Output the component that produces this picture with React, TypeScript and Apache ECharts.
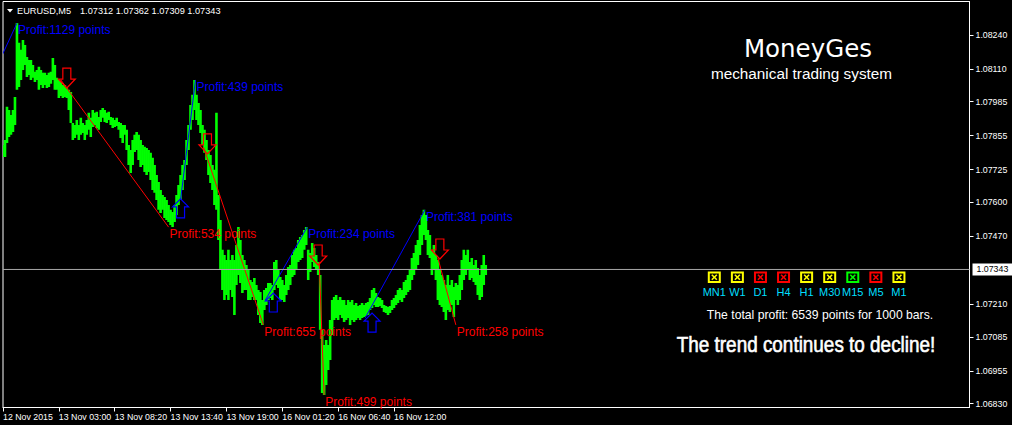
import React, { useEffect, useRef } from "react";
import * as echarts from "echarts";

// ---------- DATA ----------
const SAMPLE_STEP = 2; // bars between samples (M5 bars)

const priceHigh = [
  1.07819, 1.07838, 1.07965, 1.07953, 1.07934, 1.07953, 1.08003, 1.08286, 1.0821, 1.08183,
  1.08221, 1.08202, 1.08156, 1.08144, 1.08144, 1.08125, 1.08099, 1.08106, 1.08118, 1.08106,
  1.08095, 1.08095, 1.08087, 1.08095, 1.08099, 1.08152, 1.08125, 1.08076, 1.08068, 1.0806,
  1.08049, 1.08049, 1.08037, 1.0803, 1.08022, 1.07903, 1.07896, 1.07915, 1.07896, 1.07923,
  1.07903, 1.07896, 1.07915, 1.07942, 1.07923, 1.07953, 1.07942, 1.07946, 1.07926, 1.07953,
  1.07961, 1.07953, 1.07942, 1.07946, 1.07926, 1.07923, 1.07915, 1.07923, 1.07907, 1.07903,
  1.07896, 1.07896, 1.07877, 1.07819, 1.078, 1.07838, 1.07858, 1.07869, 1.07858, 1.07838,
  1.07819, 1.07812, 1.07808, 1.078, 1.07789, 1.0777, 1.07743, 1.07704, 1.07678, 1.07647,
  1.07628, 1.0762, 1.07609, 1.0759, 1.07571, 1.07563, 1.0759, 1.07628, 1.07666, 1.07704,
  1.07743, 1.07762, 1.07838, 1.07896, 1.07972, 1.08011, 1.08068, 1.08011, 1.0798, 1.07953,
  1.07896, 1.07877, 1.07838, 1.078, 1.07781, 1.07743, 1.07724, 1.07942, 1.07628, 1.07532,
  1.07418, 1.07398, 1.07379, 1.07418, 1.07379, 1.07398, 1.07379, 1.07437, 1.07505, 1.07456,
  1.07398, 1.07379, 1.0736, 1.07341, 1.07303, 1.07295, 1.0731, 1.07284, 1.07264, 1.07257,
  1.07226, 1.07264, 1.07272, 1.07291, 1.07291, 1.07284, 1.07372, 1.07379, 1.07341, 1.07314,
  1.07303, 1.07284, 1.07322, 1.07352, 1.0736, 1.07398, 1.07418, 1.07425, 1.07456, 1.07467,
  1.07475, 1.07494, 1.07505, 1.07418, 1.07406, 1.07444, 1.07425, 1.07398, 1.07372, 1.07322,
  1.07111, 1.07054, 1.07073, 1.07054, 1.0715, 1.07226, 1.07238, 1.07245, 1.07226, 1.07238,
  1.07226, 1.07226, 1.07207, 1.07226, 1.07219, 1.07226, 1.07207, 1.07215, 1.07203, 1.07207,
  1.07215, 1.07207, 1.07215, 1.07219, 1.07234, 1.07264, 1.07272, 1.07253, 1.07238, 1.07234,
  1.07226, 1.07207, 1.07203, 1.07199, 1.07203, 1.07226, 1.07234, 1.07245, 1.07264, 1.07272,
  1.07264, 1.07295, 1.07303, 1.07322, 1.07341, 1.07387, 1.07406, 1.07437, 1.07456, 1.07513,
  1.07551, 1.07571, 1.07551, 1.07494, 1.07475, 1.07418, 1.07437, 1.07398, 1.07379, 1.07341,
  1.07322, 1.07303, 1.07284, 1.07322, 1.07284, 1.07303, 1.07276, 1.07291, 1.07284, 1.07322,
  1.07379, 1.07418, 1.07398, 1.07418, 1.07372, 1.07387, 1.0736, 1.07379, 1.07349, 1.07322,
  1.0736, 1.07398, 1.0736,
];

const priceLow = [
  1.07773, 1.07773, 1.07827, 1.0785, 1.07858, 1.07869, 1.07896, 1.0803, 1.08041, 1.08068,
  1.08106, 1.08125, 1.08079, 1.08087, 1.08068, 1.08076, 1.0806, 1.08068, 1.0803, 1.08049,
  1.08037, 1.08049, 1.08037, 1.08041, 1.08053, 1.08068, 1.0803, 1.0803, 1.07999, 1.08007,
  1.07999, 1.08003, 1.07999, 1.07953, 1.07903, 1.07838, 1.07846, 1.07858, 1.07838, 1.07858,
  1.07865, 1.07838, 1.07858, 1.07877, 1.0785, 1.07888, 1.07896, 1.07884, 1.07877, 1.07907,
  1.07923, 1.07907, 1.07903, 1.07915, 1.07896, 1.07884, 1.07888, 1.07892, 1.07877, 1.07846,
  1.07827, 1.07858, 1.078, 1.07743, 1.07712, 1.07743, 1.07792, 1.078, 1.07762, 1.07735,
  1.07743, 1.07716, 1.07704, 1.07716, 1.07685, 1.07647, 1.07636, 1.07609, 1.07571, 1.07559,
  1.07571, 1.0754, 1.07532, 1.07525, 1.07513, 1.07505, 1.07525, 1.07551, 1.0759, 1.07609,
  1.07647, 1.07685, 1.07743, 1.078, 1.07877, 1.07915, 1.07953, 1.07915, 1.07896, 1.07865,
  1.07819, 1.07789, 1.07762, 1.07704, 1.07674, 1.07647, 1.0759, 1.07571, 1.07456, 1.07341,
  1.07264, 1.07226, 1.07245, 1.07226, 1.07264, 1.07238, 1.07169, 1.07284, 1.07322, 1.07291,
  1.07253, 1.07264, 1.07264, 1.07226, 1.07226, 1.07238, 1.07226, 1.07226, 1.07169, 1.07138,
  1.07131, 1.07188, 1.07207, 1.07226, 1.07234, 1.07226, 1.07264, 1.07284, 1.07272, 1.07226,
  1.07226, 1.07219, 1.07245, 1.07264, 1.07284, 1.07314, 1.07322, 1.07341, 1.07372, 1.07379,
  1.07387, 1.07418, 1.07437, 1.07303, 1.07333, 1.07372, 1.07352, 1.07341, 1.07322, 1.07111,
  1.0687, 1.06863, 1.06901, 1.06958, 1.06997, 1.07092, 1.0715, 1.07157, 1.0715, 1.07169,
  1.07157, 1.07142, 1.0715, 1.07157, 1.07131, 1.0715, 1.07142, 1.0715, 1.07157, 1.0715,
  1.07157, 1.07161, 1.07165, 1.07169, 1.07188, 1.07196, 1.07207, 1.07199, 1.07199, 1.07203,
  1.07196, 1.0718, 1.07176, 1.07169, 1.07176, 1.07188, 1.07196, 1.07207, 1.07215, 1.07226,
  1.07219, 1.07234, 1.07245, 1.07257, 1.07264, 1.07303, 1.07322, 1.07341, 1.0736, 1.07398,
  1.07437, 1.07475, 1.07456, 1.07398, 1.07387, 1.07322, 1.07341, 1.07303, 1.07226, 1.07207,
  1.07199, 1.0718, 1.0715, 1.07188, 1.0718, 1.07207, 1.07161, 1.07226, 1.07207, 1.07226,
  1.07264, 1.07303, 1.07322, 1.07341, 1.07303, 1.0731, 1.07295, 1.07284, 1.07245, 1.07226,
  1.07238, 1.07284, 1.07322,
];

const timeTickBars = [0, 56, 112, 168, 224, 280, 336, 392];
const timeTickLabels = [
  "12 Nov 2015",
  "13 Nov 03:00",
  "13 Nov 08:20",
  "13 Nov 13:40",
  "13 Nov 19:00",
  "16 Nov 01:20",
  "16 Nov 06:40",
  "16 Nov 12:00",
];
const priceTicks = [1.0824, 1.0811, 1.07985, 1.07855, 1.07725, 1.076, 1.0747, 1.0721, 1.07085, 1.06955, 1.0683];
const priceMin = 1.06815;
const priceMax = 1.08368;
const barMax = 969;
const bidPrice = 1.07343;

const symbolText = "EURUSD,M5";
const ohlcText = "1.07312 1.07362 1.07309 1.07343";

// trades: direction 1 = buy (blue), -1 = sell (red)
const tradeDir = [1, -1, 1, -1, 1, -1, 1, -1];
const tradeEntryBar = [-4, 58, 178, 201, 263, 317, 363, 436];
const tradeEntryPrice = [1.08137, 1.08068, 1.07609, 1.07812, 1.07226, 1.07372, 1.07157, 1.07387];
const tradeExitBar = [14, 166, 193, 261, 305, 322, 423, 454];
const tradeExitPrice = [1.08285, 1.07505, 1.08068, 1.07131, 1.07505, 1.06863, 1.07571, 1.07131];
const tradeProfit = [1129, 534, 439, 655, 234, 499, 381, 258];

// signal arrows
const signalBar = [64, 178, 205, 271, 316, 370, 438];
const signalPrice = [1.08037, 1.07613, 1.07785, 1.07253, 1.0736, 1.07176, 1.07383];
const signalDir = [-1, 1, -1, 1, -1, 1, -1];

const timeframes = ["MN1", "W1", "D1", "H4", "H1", "M30", "M15", "M5", "M1"];
const timeframeState = ["yellow", "yellow", "red", "red", "yellow", "yellow", "green", "red", "yellow"];

const titleText = "MoneyGes";
const subtitleText = "mechanical trading system";
const totalText = "The total profit: 6539 points for 1000 bars.";
const trendText = "The trend continues to decline!";

// ---------- STYLE ----------
const BLUE = "#0000ff";
const RED = "#ff0000";
const GREEN = "#00ff00";
const STATE_COLORS: Record<string, string> = { yellow: "#ffff00", red: "#ff0000", green: "#00ff00" };
const FONT = "'Liberation Sans', Arial, sans-serif";

function txt(
  x: number,
  y: number,
  text: string,
  font: string,
  fill: string,
  align: string,
  extra: any = {},
  extraStyle: any = {}
) {
  return {
    type: "text",
    x,
    y,
    ...extra,
    style: {
      text,
      fill,
      font,
      textAlign: align,
      align,
      textVerticalAlign: "middle",
      verticalAlign: "middle",
      ...extraStyle,
    },
  };
}

function buildOption() {
  const priceData = priceHigh.map((h, i) => [i * SAMPLE_STEP, priceLow[i], h]);
  const tradeData = tradeDir.map((d, i) => [
    tradeEntryBar[i],
    tradeEntryPrice[i],
    tradeExitBar[i],
    tradeExitPrice[i],
    d,
  ]);
  const labelData = tradeDir.map((d, i) => [tradeExitBar[i], tradeExitPrice[i], d]);
  const signalData = signalDir.map((d, i) => [signalBar[i], signalPrice[i], d]);

  const graphics: any[] = [
    {
      type: "polygon",
      shape: { points: [[7, 9], [13, 9], [10, 12.5]] },
      style: { fill: "#fff" },
    },
    txt(17, 11, symbolText, `9.2px ${FONT}`, "#fff", "left"),
    txt(80, 11, ohlcText, `9.2px ${FONT}`, "#fff", "left"),
    txt(808, 48.5, titleText, `24.5px 'DejaVu Sans', sans-serif`, "#fff", "center"),
    txt(801.5, 73.5, subtitleText, `15.3px ${FONT}`, "#fff", "center"),
    txt(820, 314.5, totalText, `12.2px ${FONT}`, "#fff", "center"),
    txt(806, 344, trendText, `22px ${FONT}`, "#fff", "center", { scaleX: 0.86 }, { stroke: "#fff", lineWidth: 0.6 }),
  ];

  timeframes.forEach((tf, i) => {
    const cx = 714.3 + i * 23.08;
    const col = STATE_COLORS[timeframeState[i]];
    graphics.push({
      type: "group",
      x: cx,
      y: 277,
      children: [
        {
          type: "rect",
          shape: { x: -5.5, y: -4.5, width: 11, height: 9.5 },
          style: { fill: "#000", stroke: col, lineWidth: 2 },
        },
        {
          type: "line",
          shape: { x1: -2.5, y1: -2.2, x2: 2.5, y2: 2.8 },
          style: { stroke: col, lineWidth: 1.6 },
        },
        {
          type: "line",
          shape: { x1: 2.5, y1: -2.2, x2: -2.5, y2: 2.8 },
          style: { stroke: col, lineWidth: 1.6 },
        },
        txt(0, 15, tf, `11px ${FONT}`, "#00dfff", "center"),
      ],
    });
  });

  return {
    animation: false,
    backgroundColor: "#000",
    grid: {
      left: 2.5,
      top: 1.5,
      right: 42.5,
      bottom: 17.5,
      show: true,
      borderColor: "#fff",
      borderWidth: 1,
      backgroundColor: "transparent",
    },
    xAxis: {
      type: "value",
      min: 0,
      max: barMax,
      splitLine: { show: false },
      axisLine: { show: true, onZero: false, lineStyle: { color: "#fff", width: 1 } },
      axisTick: {
        show: true,
        inside: false,
        length: 4,
        customValues: timeTickBars,
        lineStyle: { color: "#fff" },
      },
      axisLabel: {
        show: true,
        customValues: timeTickBars,
        formatter: (v: number) => {
          const k = timeTickBars.indexOf(v);
          return k >= 0 ? timeTickLabels[k] : "";
        },
        align: "left",
        color: "#fff",
        fontFamily: FONT,
        fontSize: 8.8,
        margin: 5,
        hideOverlap: false,
      },
    },
    yAxis: {
      type: "value",
      position: "right",
      min: priceMin,
      max: priceMax,
      splitLine: { show: false },
      axisLine: { show: true, onZero: false, lineStyle: { color: "#fff", width: 1 } },
      axisTick: {
        show: true,
        inside: false,
        length: 4,
        customValues: priceTicks,
        lineStyle: { color: "#fff" },
      },
      axisLabel: {
        show: true,
        customValues: priceTicks,
        formatter: (v: number) => v.toFixed(5),
        color: "#fff",
        fontFamily: FONT,
        fontSize: 8.8,
        margin: 6,
        hideOverlap: false,
      },
    },
    graphic: graphics,
    series: [
      {
        type: "custom",
        name: "price",
        clip: true,
        z: 2,
        data: priceData,
        encode: { x: 0, y: [1, 2] },
        renderItem: (params: any, api: any) => {
          const x = api.value(0);
          const lo = api.coord([x, api.value(1)]);
          const hi = api.coord([x, api.value(2)]);
          const w = api.size([SAMPLE_STEP, 0])[0];
          return {
            type: "rect",
            shape: { x: lo[0] - w / 2 - 0.3, y: hi[1], width: w + 0.6, height: Math.max(1, lo[1] - hi[1]) },
            style: { fill: GREEN },
          };
        },
      },
      {
        type: "line",
        name: "bid",
        z: 6,
        silent: true,
        symbol: "none",
        showSymbol: false,
        data: [
          [0, bidPrice],
          [barMax, bidPrice],
        ],
        lineStyle: { color: "#a8a8a8", width: 1, type: "solid" },
        endLabel: {
          show: true,
          formatter: () => bidPrice.toFixed(5),
          color: "#000",
          backgroundColor: "#fff",
          padding: [2, 4, 1, 4],
          fontFamily: FONT,
          fontSize: 8.8,
          distance: 3,
        },
      },
      {
        type: "custom",
        name: "trades",
        clip: true,
        z: 3,
        data: tradeData,
        encode: { x: [0, 2], y: [1, 3] },
        renderItem: (params: any, api: any) => {
          const a = api.coord([api.value(0), api.value(1)]);
          const b = api.coord([api.value(2), api.value(3)]);
          const up = api.value(4) > 0;
          return {
            type: "line",
            shape: { x1: a[0], y1: a[1], x2: b[0], y2: b[1] },
            style: { stroke: up ? BLUE : RED, lineWidth: 1 },
          };
        },
      },
      {
        type: "custom",
        name: "signals",
        clip: true,
        z: 4,
        data: signalData,
        encode: { x: 0, y: 1 },
        renderItem: (params: any, api: any) => {
          const p = api.coord([api.value(0), api.value(1)]);
          const up = api.value(2) > 0;
          const pts = up
            ? [[-4, 19], [4, 19], [4, 8], [8, 8], [0, 0], [-8, 8], [-4, 8]]
            : [[-4, -20], [4, -20], [4, -9], [8.5, -9], [0, 0], [-8.5, -9], [-4, -9]];
          return {
            type: "polygon",
            x: p[0],
            y: p[1],
            shape: { points: pts },
            style: { fill: "none", stroke: up ? BLUE : RED, lineWidth: 1.2 },
          };
        },
      },
      {
        type: "custom",
        name: "profits",
        clip: false,
        z: 5,
        data: labelData,
        encode: { x: 0, y: 1 },
        renderItem: (params: any, api: any) => {
          const p = api.coord([api.value(0), api.value(1)]);
          const up = api.value(2) > 0;
          return txt(
            p[0] + 1,
            p[1] + 7,
            `Profit:${tradeProfit[params.dataIndex]} points`,
            `12px ${FONT}`,
            up ? BLUE : RED,
            "left"
          );
        },
      },
    ],
  };
}

export default function App() {
  const ref = useRef<HTMLDivElement>(null);
  useEffect(() => {
    document.body.style.margin = "0";
    document.body.style.background = "#000";
    if (!ref.current) return;
    const chart = echarts.init(ref.current, null, { renderer: "svg" });
    chart.setOption(buildOption() as any);
    return () => chart.dispose();
  }, []);
  return (
    <div
      ref={ref}
      style={{ position: "absolute", left: 0, top: 0, width: 1012, height: 425, background: "#000" }}
    />
  );
}
